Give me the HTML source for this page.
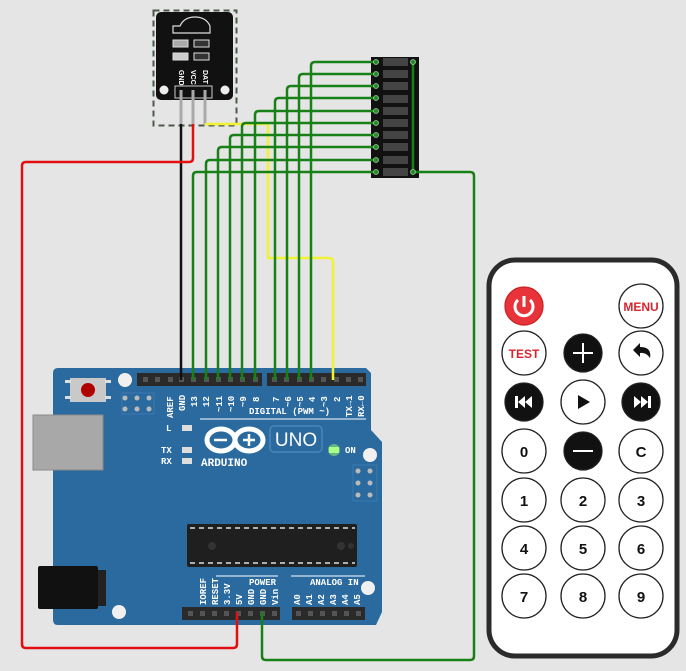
<!DOCTYPE html>
<html><head><meta charset="utf-8"><style>
html,body{margin:0;padding:0;background:#e5e5e5;}
svg{display:block;font-family:"Liberation Sans",sans-serif;}
.m{font-family:"Liberation Mono",monospace;font-weight:bold;fill:#fff;font-size:9px;}
.b{font-family:"Liberation Sans",sans-serif;font-weight:bold;font-size:15px;text-anchor:middle;}
</style></head><body>
<svg width="686" height="671" viewBox="0 0 686 671" xmlns="http://www.w3.org/2000/svg">
<rect width="686" height="671" fill="#e5e5e5"/>
<!-- Arduino board -->
<path d="M58,368 H366 L371,373 V430 L382,442 V612 L376,625 H58 Q53,625 53,620 V373 Q53,368 58,368 Z" fill="#2b6a9f"/>
<circle cx="125" cy="380" r="7" fill="#f0f0f0"/>
<circle cx="119" cy="612" r="7" fill="#f0f0f0"/>
<circle cx="370" cy="455" r="7" fill="#f0f0f0"/>
<circle cx="368" cy="588" r="7" fill="#f0f0f0"/>
<!-- reset button -->
<rect x="70" y="378" width="36" height="24" fill="#c9c9c9"/>
<rect x="65" y="380" width="6" height="3" fill="#ddd"/><rect x="65" y="396" width="6" height="3" fill="#ddd"/>
<rect x="105" y="380" width="6" height="3" fill="#ddd"/><rect x="105" y="396" width="6" height="3" fill="#ddd"/>
<circle cx="88" cy="390" r="7" fill="#b00000"/>
<g fill="#bbb"><circle cx="125" cy="398" r="2.5"/><circle cx="137" cy="398" r="2.5"/><circle cx="149" cy="398" r="2.5"/><circle cx="125" cy="409" r="2.5"/><circle cx="137" cy="409" r="2.5"/><circle cx="149" cy="409" r="2.5"/></g>
<rect x="122" y="393" width="32" height="21" fill="none" stroke="#3b79ae" stroke-width="1"/>
<!-- USB -->
<rect x="33" y="415" width="70" height="55" fill="#a8a8a8" stroke="#8a8a8a"/>
<!-- jack -->
<rect x="38" y="566" width="60" height="43" fill="#111" rx="2"/>
<rect x="98" y="570" width="8" height="36" fill="#222"/>
<!-- headers top -->
<rect x="137" y="373" width="125" height="13" fill="#2a2a2a"/>
<rect x="267" y="373" width="99" height="13" fill="#2a2a2a"/>
<g fill="#555">
<rect x="143" y="377" width="5" height="5"/><rect x="155" y="377" width="5" height="5"/><rect x="168" y="377" width="5" height="5"/><rect x="179" y="377" width="5" height="5"/><rect x="191" y="377" width="5" height="5"/><rect x="204" y="377" width="5" height="5"/><rect x="216" y="377" width="5" height="5"/><rect x="228" y="377" width="5" height="5"/><rect x="240" y="377" width="5" height="5"/><rect x="253" y="377" width="5" height="5"/>
<rect x="272" y="377" width="5" height="5"/><rect x="284" y="377" width="5" height="5"/><rect x="297" y="377" width="5" height="5"/><rect x="309" y="377" width="5" height="5"/><rect x="321" y="377" width="5" height="5"/><rect x="334" y="377" width="5" height="5"/><rect x="346" y="377" width="5" height="5"/><rect x="358" y="377" width="5" height="5"/>
</g>
<!-- pin labels top (rotated) -->
<g class="m" font-size="9">
<text transform="translate(173,418) rotate(-90)">AREF</text>
<text transform="translate(185,411) rotate(-90)">GND</text>
<text transform="translate(197,407) rotate(-90)">13</text>
<text transform="translate(209,407) rotate(-90)">12</text>
<text transform="translate(222,412) rotate(-90)">~11</text>
<text transform="translate(234,412) rotate(-90)">~10</text>
<text transform="translate(246,407) rotate(-90)">~9</text>
<text transform="translate(259,402) rotate(-90)">8</text>
<text transform="translate(279,402) rotate(-90)">7</text>
<text transform="translate(291,407) rotate(-90)">~6</text>
<text transform="translate(303,407) rotate(-90)">~5</text>
<text transform="translate(315,402) rotate(-90)">4</text>
<text transform="translate(327,407) rotate(-90)">~3</text>
<text transform="translate(340,402) rotate(-90)">2</text>
<text transform="translate(352,417) rotate(-90)">TX→1</text>
<text transform="translate(364,417) rotate(-90)">RX←0</text>
</g>
<text class="m" x="249" y="414">DIGITAL (PWM ~)</text>
<line x1="200" y1="419" x2="366" y2="419" stroke="#fff" stroke-width="1"/>
<!-- LEDs -->
<text class="m" x="166" y="431">L</text><rect x="182" y="425" width="10" height="6" fill="#ddd"/>
<text class="m" x="161" y="453">TX</text><rect x="182" y="447" width="10" height="6" fill="#ddd"/>
<text class="m" x="161" y="464">RX</text><rect x="182" y="458" width="10" height="6" fill="#ddd"/>
<!-- Arduino logo -->
<g fill="none" stroke="#fff" stroke-width="5">
<ellipse cx="221" cy="440" rx="14" ry="11"/><ellipse cx="249" cy="440" rx="14" ry="11"/>
</g>
<line x1="214" y1="440" x2="227" y2="440" stroke="#fff" stroke-width="2.5"/>
<line x1="243" y1="440" x2="255" y2="440" stroke="#fff" stroke-width="2.5"/><line x1="249" y1="434" x2="249" y2="446" stroke="#fff" stroke-width="2.5"/>
<text x="201" y="466" fill="#fff" font-family="Liberation Mono,monospace" font-weight="bold" font-size="11">ARDUINO</text>
<rect x="270" y="426" width="52" height="26" rx="4" fill="none" stroke="#4a86b8" stroke-width="1.5"/>
<text x="296" y="446" fill="#fff" font-size="19" text-anchor="middle" font-family="Liberation Sans,sans-serif">UNO</text>
<circle cx="334" cy="450" r="6" fill="#9dff6a" opacity="0.5"/><rect x="329" y="447" width="10" height="6" fill="#aaff88"/>
<text class="m" x="345" y="453">ON</text>
<g fill="#bbb"><circle cx="358" cy="471" r="2.5"/><circle cx="370" cy="471" r="2.5"/><circle cx="358" cy="483" r="2.5"/><circle cx="370" cy="483" r="2.5"/><circle cx="358" cy="495" r="2.5"/><circle cx="370" cy="495" r="2.5"/></g>
<rect x="353" y="465" width="24" height="36" fill="none" stroke="#3b79ae"/>
<!-- chip -->
<rect x="187" y="524" width="170" height="43" fill="#1f1f1f" rx="2"/>
<g stroke="#ddd" stroke-width="1.5" stroke-dasharray="5,4"><line x1="190" y1="528" x2="355" y2="528"/><line x1="190" y1="563" x2="355" y2="563"/></g>
<circle cx="212" cy="546" r="4" fill="#333"/><circle cx="341" cy="546" r="4" fill="#333"/><circle cx="351" cy="546" r="3" fill="#333"/>
<!-- bottom headers -->
<rect x="182" y="607" width="98" height="13" fill="#2a2a2a"/>
<rect x="292" y="607" width="73" height="13" fill="#2a2a2a"/>
<g fill="#555">
<rect x="188" y="611" width="5" height="5"/><rect x="200" y="611" width="5" height="5"/><rect x="212" y="611" width="5" height="5"/><rect x="224" y="611" width="5" height="5"/><rect x="236" y="611" width="5" height="5"/><rect x="248" y="611" width="5" height="5"/><rect x="260" y="611" width="5" height="5"/><rect x="272" y="611" width="5" height="5"/>
<rect x="296" y="611" width="5" height="5"/><rect x="308" y="611" width="5" height="5"/><rect x="320" y="611" width="5" height="5"/><rect x="332" y="611" width="5" height="5"/><rect x="344" y="611" width="5" height="5"/><rect x="356" y="611" width="5" height="5"/>
</g>
<g class="m">
<text transform="translate(206,605) rotate(-90)">IOREF</text>
<text transform="translate(218,605) rotate(-90)">RESET</text>
<text transform="translate(230,605) rotate(-90)">3.3V</text>
<text transform="translate(242,605) rotate(-90)">5V</text>
<text transform="translate(254,605) rotate(-90)">GND</text>
<text transform="translate(266,605) rotate(-90)">GND</text>
<text transform="translate(278,605) rotate(-90)">Vin</text>
<text transform="translate(300,605) rotate(-90)">A0</text>
<text transform="translate(312,605) rotate(-90)">A1</text>
<text transform="translate(324,605) rotate(-90)">A2</text>
<text transform="translate(336,605) rotate(-90)">A3</text>
<text transform="translate(348,605) rotate(-90)">A4</text>
<text transform="translate(360,605) rotate(-90)">A5</text>
<text x="249" y="585">POWER</text>
<text x="310" y="585">ANALOG IN</text>
</g>
<line x1="216" y1="576" x2="278" y2="576" stroke="#fff"/><line x1="291" y1="576" x2="365" y2="576" stroke="#fff"/>

<!-- IR module -->
<rect x="153.5" y="10.5" width="83" height="115" fill="none" stroke="#4a5a4a" stroke-width="2" stroke-dasharray="6,4"/>
<rect x="156" y="12" width="77" height="88" rx="5" fill="#111"/>
<path d="M173,33 V26 H180 Q184,17 195,17 Q206,17 210,26 H210 V33 Z" fill="#111" stroke="#ddd" stroke-width="1.2"/>
<rect x="173" y="40" width="15" height="7" fill="#aaa" stroke="#ddd"/><rect x="194" y="40" width="15" height="7" fill="#333" stroke="#ddd"/>
<rect x="173" y="53" width="15" height="7" fill="#ccc" stroke="#ddd"/><rect x="194" y="53" width="15" height="7" fill="#333" stroke="#ddd"/>
<circle cx="164" cy="90" r="4.5" fill="#eee"/><circle cx="225" cy="90" r="4.5" fill="#eee"/>
<g fill="#fff" font-size="7" font-weight="bold"><text transform="translate(179,70) rotate(90)">GND</text><text transform="translate(191,70) rotate(90)">VCC</text><text transform="translate(203,70) rotate(90)">DAT</text></g>
<rect x="175" y="86" width="37" height="12" fill="#111" stroke="#ccc"/>
<g stroke="#aaa" stroke-width="3"><line x1="181" y1="90" x2="181" y2="124"/><line x1="193" y1="90" x2="193" y2="124"/><line x1="205" y1="90" x2="205" y2="124"/></g>

<!-- LED bar -->
<rect x="371" y="57" width="48" height="121" fill="#111"/>
<g fill="#444">
<rect x="383" y="58" width="25" height="8"/><rect x="383" y="70" width="25" height="8"/><rect x="383" y="82" width="25" height="8"/><rect x="383" y="95" width="25" height="8"/><rect x="383" y="107" width="25" height="8"/><rect x="383" y="119" width="25" height="8"/><rect x="383" y="131" width="25" height="8"/><rect x="383" y="143" width="25" height="8"/><rect x="383" y="156" width="25" height="8"/><rect x="383" y="168" width="25" height="8"/>
</g>

<!-- wires -->
<g fill="none" stroke-width="2.5" stroke-linejoin="round">
<path d="M181,124 V380" stroke="#111"/>
<path d="M193,124 V158 Q193,162 189,162 H26 Q22,162 22,166 V644 Q22,648 26,648 H233 Q237,648 237,644 V612" stroke="#e01010"/>
<path d="M205,124 H268 V258 H329 Q333,258 333,262 V380" stroke="#f2f235"/>
<g stroke="#178017">
<path d="M193,380 V176 Q193,172 197,172 H376"/>
<path d="M206,380 V164 Q206,160 210,160 H376"/>
<path d="M218,380 V151 Q218,147 222,147 H376"/>
<path d="M230,380 V139 Q230,135 234,135 H376"/>
<path d="M242,380 V127 Q242,123 246,123 H376"/>
<path d="M255,380 V115 Q255,111 259,111 H376"/>
<path d="M275,380 V102 Q275,98 279,98 H376"/>
<path d="M287,380 V90 Q287,86 291,86 H376"/>
<path d="M299,380 V78 Q299,74 303,74 H376"/>
<path d="M311,380 V66 Q311,62 315,62 H376"/>
<path d="M413,62 V172 H470 Q474,172 474,176 V656 Q474,660 470,660 H266 Q262,660 262,656 V612"/>
</g>
</g>
<g fill="#2a8a2a" stroke="#9c9" stroke-width="0.8">
<circle cx="376" cy="62" r="2.5"/><circle cx="376" cy="74" r="2.5"/><circle cx="376" cy="86" r="2.5"/><circle cx="376" cy="98" r="2.5"/><circle cx="376" cy="111" r="2.5"/><circle cx="376" cy="123" r="2.5"/><circle cx="376" cy="135" r="2.5"/><circle cx="376" cy="147" r="2.5"/><circle cx="376" cy="160" r="2.5"/><circle cx="376" cy="172" r="2.5"/>
<circle cx="413" cy="62" r="2.5"/><circle cx="413" cy="172" r="2.5"/>
</g>

<!-- Remote -->
<rect x="489" y="260" width="188" height="396" rx="26" fill="#fff" stroke="#2b2b2b" stroke-width="5"/>
<g stroke="#222" stroke-width="1.3">
<circle cx="524" cy="306" r="19" fill="#e8333b" stroke="#c22"/>
<circle cx="641" cy="306" r="22" fill="#fff"/>
<circle cx="524" cy="353" r="22" fill="#fff"/>
<circle cx="583" cy="353" r="19" fill="#111"/>
<circle cx="641" cy="353" r="22" fill="#fff"/>
<circle cx="524" cy="402" r="19" fill="#111"/>
<circle cx="583" cy="402" r="22" fill="#fff"/>
<circle cx="641" cy="402" r="19" fill="#111"/>
<circle cx="524" cy="451" r="22" fill="#fff"/>
<circle cx="583" cy="451" r="19" fill="#111"/>
<circle cx="641" cy="451" r="22" fill="#fff"/>
<circle cx="524" cy="500" r="22" fill="#fff"/><circle cx="583" cy="500" r="22" fill="#fff"/><circle cx="641" cy="500" r="22" fill="#fff"/>
<circle cx="524" cy="548" r="22" fill="#fff"/><circle cx="583" cy="548" r="22" fill="#fff"/><circle cx="641" cy="548" r="22" fill="#fff"/>
<circle cx="524" cy="596" r="22" fill="#fff"/><circle cx="583" cy="596" r="22" fill="#fff"/><circle cx="641" cy="596" r="22" fill="#fff"/>
</g>
<path d="M518,300 A9,9 0 1 0 530,300" fill="none" stroke="#fff" stroke-width="3"/>
<line x1="524" y1="296" x2="524" y2="307" stroke="#fff" stroke-width="3"/>
<text x="641" y="311" fill="#d8262e" font-size="12" font-weight="bold" text-anchor="middle">MENU</text>
<text x="524" y="358" fill="#d8262e" font-size="12" font-weight="bold" text-anchor="middle">TEST</text>
<g stroke="#fff" stroke-width="2"><line x1="573" y1="353" x2="593" y2="353"/><line x1="583" y1="343" x2="583" y2="363"/><line x1="573" y1="451" x2="593" y2="451"/></g>
<path d="M633,350 L640,343 V347 Q652,347 650,358 Q646,352 640,353 V357 Z" fill="#111"/>
<g fill="#fff"><rect x="515" y="396" width="3" height="12"/><path d="M525,396 L518,402 L525,408 Z M532,396 L525,402 L532,408 Z"/>
<path d="M634,396 L641,402 L634,408 Z M641,396 L648,402 L641,408 Z"/><rect x="648" y="396" width="3" height="12"/></g>
<path d="M578,395 L590,402 L578,409 Z" fill="#111"/>
<g class="b" fill="#111">
<text x="524" y="457">0</text><text x="641" y="457">C</text>
<text x="524" y="506">1</text><text x="583" y="506">2</text><text x="641" y="506">3</text>
<text x="524" y="554">4</text><text x="583" y="554">5</text><text x="641" y="554">6</text>
<text x="524" y="602">7</text><text x="583" y="602">8</text><text x="641" y="602">9</text>
</g>
</svg>
</body></html>
